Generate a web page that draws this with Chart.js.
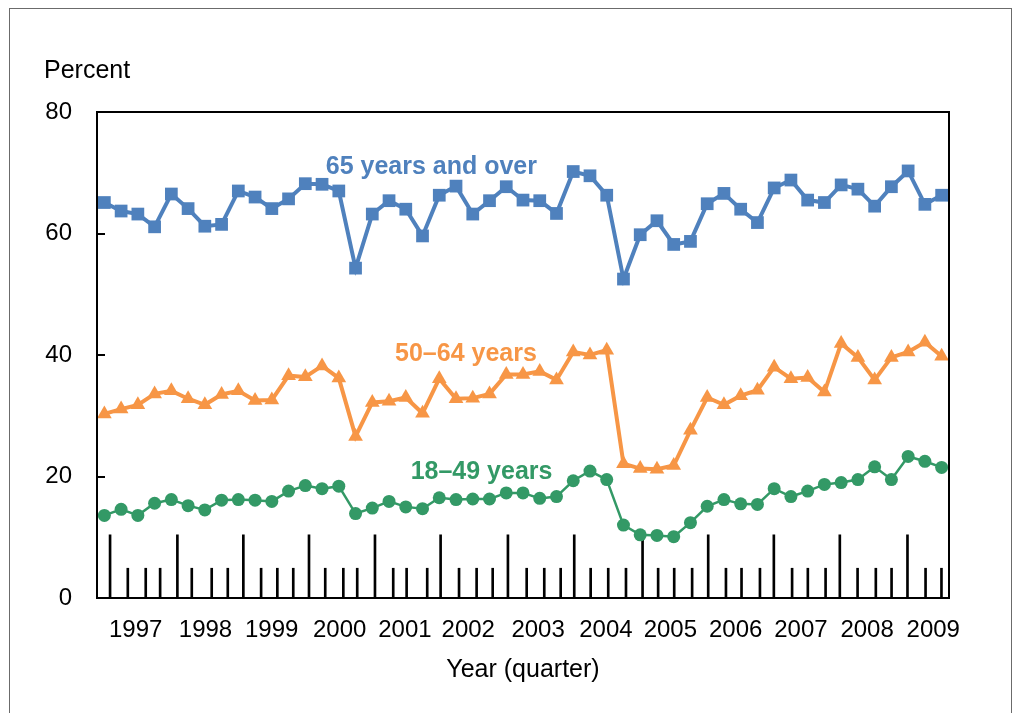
<!DOCTYPE html>
<html><head><meta charset="utf-8">
<script src="https://cdn.jsdelivr.net/npm/chart.js@4/dist/chart.umd.min.js"></script>
<style>html,body{margin:0;padding:0;background:#fff}#wrap{width:1015px;height:713px;position:relative}</style>
</head><body><div id="wrap"><canvas id="c" width="1015" height="713"></canvas></div>
<script>
// Quarter categories (index 0 .. 50)
const quarterLabels = [];
for (let y = 1997; y <= 2009; y++) for (let q = 1; q <= 4; q++) if (quarterLabels.length < 51) quarterLabels.push(y + ' Q' + q);

const series65plus = [65.1,63.7,63.2,61.1,66.5,64.1,61.2,61.5,67.0,66.0,64.1,65.7,68.2,68.1,67.0,54.3,63.2,65.4,64.0,59.6,66.3,67.8,63.2,65.4,67.7,65.5,65.4,63.3,70.2,69.5,66.3,52.5,59.8,62.1,58.2,58.7,64.9,66.6,64.0,61.8,67.5,68.8,65.5,65.1,68.0,67.3,64.5,67.7,70.3,64.8,66.3];
const series50to64 = [30.3,31.1,31.8,33.6,34.1,32.8,31.8,33.5,34.1,32.5,32.6,36.6,36.4,38.2,36.2,26.6,32.2,32.4,33.0,30.4,36.1,32.8,32.9,33.6,36.8,36.8,37.3,35.9,40.5,40.0,40.8,22.1,21.3,21.2,21.8,27.6,33.0,31.8,33.3,34.2,38.0,36.1,36.3,33.9,41.9,39.6,35.9,39.6,40.5,42.1,39.8];
const series18to49 = [13.6,14.6,13.6,15.6,16.2,15.2,14.5,16.1,16.2,16.1,15.9,17.6,18.5,18.0,18.4,13.9,14.8,15.9,15.0,14.7,16.5,16.2,16.3,16.3,17.3,17.3,16.4,16.7,19.3,20.9,19.5,12.0,10.4,10.3,10.1,12.4,15.1,16.2,15.5,15.4,18.0,16.7,17.6,18.7,19.0,19.5,21.6,19.5,23.3,22.5,21.5];

// Year tick labels and where they sit (in quarter-index units)
const yearLabels = ['1997','1998','1999','2000','2001','2002','2003','2004','2005','2006','2007','2008','2009'];
const yearLabelAt = [1.87,6.04,9.99,14.05,17.95,21.73,25.9,29.95,33.8,37.7,41.6,45.55,49.5];

// Hand-drawn quarter tick marks on the x axis (quarter-index units), major = year boundary
const tickMarkAt = [0.34,1.40,2.47,3.33,4.36,5.22,6.41,7.37,8.30,9.36,10.33,11.28,12.22,13.19,14.27,15.10,16.16,17.25,18.05,19.28,20.08,21.18,22.23,23.19,24.10,25.22,26.27,27.25,28.06,29.04,30.09,31.15,32.14,33.07,34.03,35.10,36.06,37.12,38.05,39.15,39.98,41.07,42.01,43.07,43.92,44.98,46.07,47.01,47.96,49.04,49.99];
const tickMarkMajor = [1,0,0,0,1,0,0,0,1,0,0,0,1,0,0,0,1,0,0,0,1,0,0,0,1,0,0,0,1,0,0,0,1,0,0,0,1,0,0,0,1,0,0,0,1,0,0,0,1,0,0];

const yTicks = [0,20,40,60,80];

const seriesNames = ['65 years and over','50\u201364 years','18\u201349 years'];
// label anchor (quarter index, percent) for the in-chart series labels
const seriesLabelAt = [[13.22,69.8],[17.36,39.06],[18.29,19.62]];

const BLUE = '#4F81BD', ORANGE = '#F79646', GREEN = '#339966';
const FONT = '"Liberation Sans", Arial, Helvetica, sans-serif';
const LONG_MARK = 10.4, SHORT_MARK = 4.9;

const toXY = arr => arr.map((v, i) => ({x: i, y: v}));

const decor = {
  id: 'decor',
  beforeDraw(chart) {
    const ctx = chart.ctx;
    ctx.save();
    ctx.fillStyle = '#fff';
    ctx.fillRect(0, 0, chart.width, chart.height);
    ctx.strokeStyle = '#6b6b6b';
    ctx.lineWidth = 1;
    ctx.strokeRect(9.5, 8.5, 1002, 760);
    ctx.restore();
  },
  afterDatasetsDraw(chart) {
    const ctx = chart.ctx, a = chart.chartArea;
    const xs = chart.scales.x, ys = chart.scales.y;
    ctx.save();
    // plot frame
    ctx.strokeStyle = '#000';
    ctx.lineWidth = 2;
    ctx.strokeRect(a.left, a.top, a.right - a.left, a.bottom - a.top);
    // inward y ticks
    yTicks.forEach(v => {
      const py = Math.round(ys.getPixelForValue(v));
      ctx.beginPath(); ctx.moveTo(a.left, py); ctx.lineTo(a.left + 8, py); ctx.stroke();
    });
    // y axis title
    ctx.fillStyle = '#000';
    ctx.font = '25px ' + FONT;
    ctx.textAlign = 'left';
    ctx.textBaseline = 'alphabetic';
    ctx.fillText('Percent', a.left - 53, a.top - 34);
    // series labels
    ctx.font = 'bold 25px ' + FONT;
    const cols = [BLUE, ORANGE, GREEN];
    seriesNames.forEach((t, i) => {
      ctx.fillStyle = cols[i];
      ctx.fillText(t, xs.getPixelForValue(seriesLabelAt[i][0]), ys.getPixelForValue(seriesLabelAt[i][1]));
    });
    ctx.restore();
  }
};

new Chart(document.getElementById('c'), {
  type: 'line',
  data: {
    labels: quarterLabels,
    datasets: [
      {label: seriesNames[0], data: toXY(series65plus), borderColor: BLUE, backgroundColor: BLUE,
       borderWidth: 4, pointStyle: 'rect', pointRadius: 9, pointBorderWidth: 0, pointBackgroundColor: BLUE, order: 1},
      {label: seriesNames[1], data: toXY(series50to64), borderColor: ORANGE, backgroundColor: ORANGE,
       borderWidth: 4, pointStyle: 'triangle', pointRadius: 8.5, pointBorderWidth: 0, pointBackgroundColor: ORANGE, order: 2},
      {label: seriesNames[2], data: toXY(series18to49), borderColor: GREEN, backgroundColor: GREEN,
       borderWidth: 2.5, pointStyle: 'circle', pointRadius: 6.5, pointBorderWidth: 0, pointBackgroundColor: GREEN, order: 3},
      {type: 'bar', label: 'quarter marks', data: tickMarkAt.map((x, i) => ({x: x, y: tickMarkMajor[i] ? LONG_MARK : SHORT_MARK})),
       backgroundColor: '#000', barThickness: 2, grouped: false, order: 10}
    ]
  },
  options: {
    responsive: false,
    animation: false,
    events: [],
    layout: {padding: {left: 0, top: 112, right: 66, bottom: 0}},
    plugins: {legend: {display: false}, tooltip: {enabled: false}},
    scales: {
      x: {
        type: 'linear', min: -0.44, max: 50.44, offset: false,
        grid: {display: false, drawTicks: false},
        border: {display: false},
        afterBuildTicks: s => { s.ticks = yearLabelAt.map(v => ({value: v})); },
        ticks: {autoSkip: false, maxRotation: 0, minRotation: 0, padding: 18, color: '#000',
                font: {family: FONT, size: 24}, callback: (v, i) => yearLabels[i]},
        afterFit: s => { s.height = 115; },
        title: {display: true, text: 'Year (quarter)', color: '#000', font: {family: FONT, size: 25},
                padding: {top: 0, bottom: 28}}
      },
      y: {
        min: 0, max: 80,
        afterBuildTicks: s => { s.ticks = yTicks.map(v => ({value: v})); },
        ticks: {padding: 25, color: '#000', font: {family: FONT, size: 24}},
        grid: {display: false, drawTicks: false},
        border: {display: false},
        afterFit: s => { s.width = 97; }
      }
    }
  },
  plugins: [decor]
});
</script>
</body></html>
